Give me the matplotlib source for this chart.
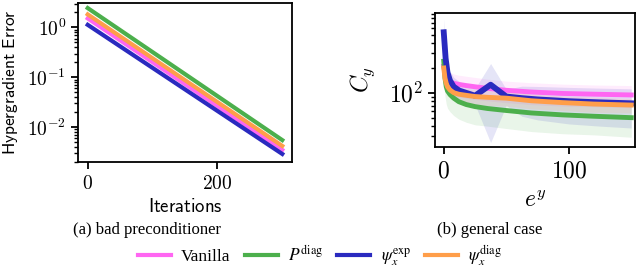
import matplotlib
matplotlib.use('Agg')
import matplotlib.pyplot as plt
import numpy as np
from matplotlib.ticker import FuncFormatter, NullFormatter, LogLocator
from matplotlib.font_manager import FontProperties

plt.rcParams['mathtext.fontset'] = 'cm'

# colours
c_van = '#ff66f2'
c_pdiag = '#4caf4c'
c_exp = '#2a2abf'
c_psidiag = '#ff9e4a'

# (a) bad preconditioner: straight decays on a log scale
iters = [0, 300]
err_vanilla = [1.52, 0.0035]
err_pdiag = [2.45, 0.0055]
err_exp = [1.13, 0.0029]
err_psidiag = [1.83, 0.0042]

# (b) general case
ey = [0, 1, 2, 3, 5, 8, 12, 18, 25, 35, 50, 70, 95, 120, 150]
cy_vanilla = [210, 175, 155, 145, 136, 130, 126, 122, 118, 113, 107, 102, 98, 96, 94]
sd_vanilla = [60, 50, 45, 42, 40, 38, 37, 36, 35, 33, 31, 30, 29, 28, 28]
cy_pdiag = [240, 150, 118, 105, 95, 86, 78, 72, 68, 64.5, 61, 57, 54, 52, 50]
sd_pdiag = [90, 60, 45, 40, 36, 33, 30, 28, 27, 25, 24, 23, 22, 21, 21]
cy_psidiag = [199, 150, 130, 118, 108, 100, 96, 93, 90, 88, 86, 80, 76, 73, 71]
sd_psidiag = [40, 30, 26, 24, 22, 20, 19, 19, 18, 18, 17, 16, 15, 15, 14]

ey_exp = [0, 1.5, 3, 5, 8, 12.5, 25, 37.5, 50, 62.5, 75, 100, 125, 150]
cy_exp = [537, 260, 175, 140, 118, 106, 92, 125, 90, 86, 83, 79, 76.5, 74.5]
sd_exp = [240, 100, 50, 40, 35, 30, 20, 100, 20, 34, 36, 37, 37, 37]

labels = ['Vanilla', r'$P^{\rm diag}$', r'$\psi_x^{\rm exp}$', r'$\psi_x^{\rm diag}$']

fig = plt.figure(figsize=(6.4, 2.71), dpi=100)
ax1 = fig.add_axes([78 / 640, 1 - 162 / 271, 214 / 640, 159 / 271])
ax2 = fig.add_axes([435 / 640, 1 - 146.7 / 271, 200 / 640, 133.4 / 271])

lin_fmt = FuncFormatter(lambda v, p: '$%g$' % v)
log_fmt = FuncFormatter(lambda v, p: '$10^{%d}$' % round(np.log10(v)))

# left panel
lw = 3
ax1.plot(iters, err_vanilla, color=c_van, lw=lw, label=labels[0])
ax1.plot(iters, err_pdiag, color=c_pdiag, lw=lw, label=labels[1])
ax1.plot(iters, err_exp, color=c_exp, lw=lw, label=labels[2])
ax1.plot(iters, err_psidiag, color=c_psidiag, lw=lw, label=labels[3])
ax1.set_yscale('log')
ax1.set_xlim(-15, 315)
ax1.set_ylim(0.002, 3.1)
ax1.set_xticks([0, 200])
ax1.xaxis.set_major_formatter(lin_fmt)
ax1.set_yticks([1, 0.1, 0.01])
ax1.yaxis.set_major_formatter(log_fmt)
ax1.yaxis.set_minor_locator(LogLocator(base=10, subs=range(2, 10)))
ax1.yaxis.set_minor_formatter(NullFormatter())
ax1.tick_params(labelsize=14, width=1.3, length=5)
ax1.tick_params(which='minor', width=1.0, length=3)
ax1.set_xlabel(r'$\mathsf{Iterations}$', fontsize=13.5, labelpad=3)
ax1.set_ylabel(r'$\mathsf{Hypergradient\ Error}$', fontsize=12.5)
ax1.yaxis.set_label_coords(-58 / 214, 0.5)

# right panel
lw2 = 3.5
alpha = 0.12
for x, m, s, c, lab, w in [
        (ey, cy_vanilla, sd_vanilla, c_van, labels[0], lw2),
        (ey, cy_pdiag, sd_pdiag, c_pdiag, labels[1], lw2),
        (ey_exp, cy_exp, sd_exp, c_exp, labels[2], 4.2),
        (ey, cy_psidiag, sd_psidiag, c_psidiag, labels[3], lw2)]:
    lo = [a - b for a, b in zip(m, s)]
    hi = [a + b for a, b in zip(m, s)]
    ax2.fill_between(x, lo, hi, color=c, alpha=alpha, lw=0)
    ax2.plot(x, m, color=c, lw=w, label=lab)
ax2.set_yscale('log')
ax2.set_xlim(-7, 153)
ax2.set_ylim(22.3, 910)
ax2.set_xticks([0, 100])
ax2.xaxis.set_major_formatter(lin_fmt)
ax2.set_yticks([100])
ax2.yaxis.set_major_formatter(log_fmt)
ax2.yaxis.set_minor_locator(LogLocator(base=10, subs=range(2, 10)))
ax2.yaxis.set_minor_formatter(NullFormatter())
ax2.tick_params(labelsize=17, width=1.3, length=5)
ax2.tick_params(which='minor', width=1.0, length=3)
ax2.set_xlabel(r'$e^y$', fontsize=17, labelpad=4)
ax2.set_ylabel(r'$C_y$', fontsize=17, labelpad=9)

for ax in (ax1, ax2):
    for sp in ax.spines.values():
        sp.set_linewidth(1.3)

capfont = dict(family='Liberation Serif', fontsize=12)
fig.text(147 / 640, 1 - 230 / 271, '(a) bad preconditioner', ha='center', va='center', **capfont)
fig.text(490 / 640, 1 - 230 / 271, '(b) general case', ha='center', va='center', **capfont)

handles, labs = ax1.get_legend_handles_labels()
fig.legend(handles, labs, loc='center', bbox_to_anchor=(320 / 640, 1 - 256 / 271),
           ncol=4, frameon=False, handlelength=1.9, columnspacing=0.8, handletextpad=0.6,
           prop=FontProperties(family='Liberation Serif', size=12.5, math_fontfamily='stix'))

fig.savefig('out.png', dpi=100)
